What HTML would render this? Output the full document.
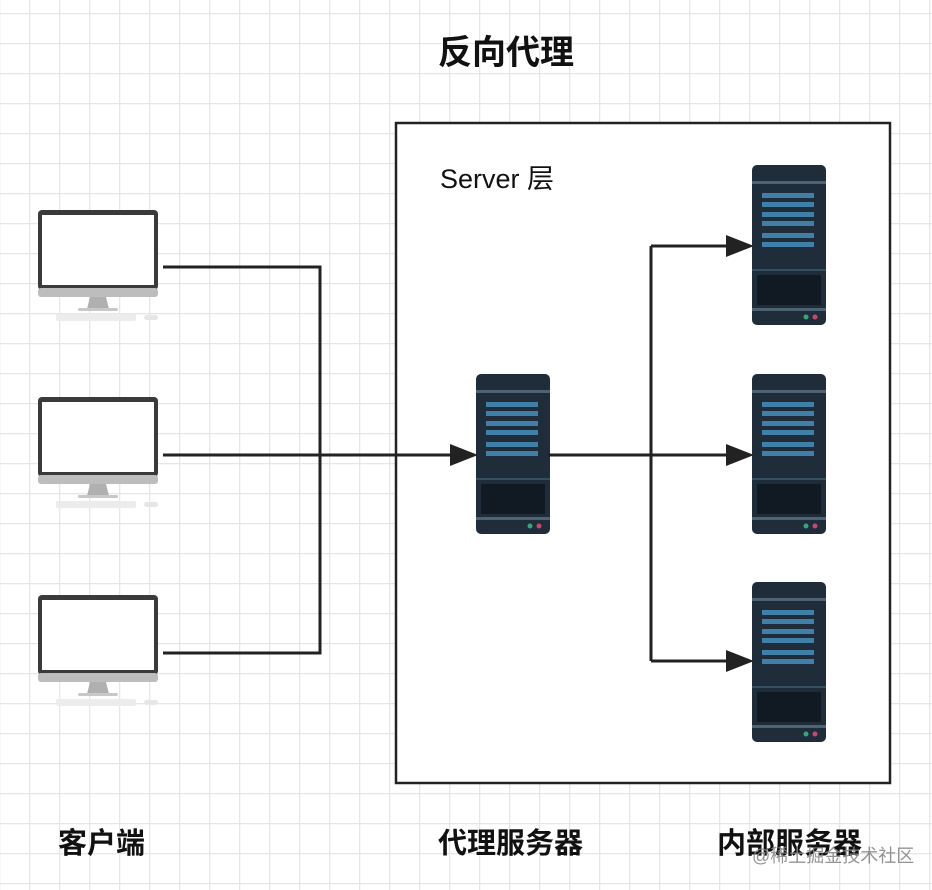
<!DOCTYPE html>
<html><head><meta charset="utf-8"><style>
html,body{margin:0;padding:0;background:#fff}
svg{display:block}
text{font-family:"Liberation Sans","Noto Sans CJK SC",sans-serif}
</style></head><body>
<svg width="932" height="890" viewBox="0 0 932 890" xmlns="http://www.w3.org/2000/svg">
<defs>
<pattern id="g" x="-1" y="13" width="30" height="30" patternUnits="userSpaceOnUse">
<path d="M0.5 0V30M0 0.5H30" stroke="#e6e6e6" stroke-width="1.5" fill="none"/>
</pattern>
<g id="mon">
<rect x="0" y="0" width="120" height="80" rx="4" fill="#3a3a3a"/>
<rect x="4" y="5" width="112" height="70" fill="#fff"/>
<rect x="0" y="78" width="120" height="9" rx="3" fill="#bdbdbd"/>
<path d="M52 87h16l3 12h-22z" fill="#b0b0b0"/>
<rect x="40" y="98" width="40" height="3" rx="1.5" fill="#c8c8c8"/>
<rect x="18" y="104" width="80" height="7" rx="2" fill="#ececec"/>
<rect x="106" y="105" width="14" height="5" rx="2.5" fill="#e6e6e6"/>
</g>
<g id="srv">
<rect x="0" y="0" width="74" height="160" rx="5" fill="#1f2d3a"/>
<rect x="0" y="16" width="74" height="3" fill="#4e6272"/>
<rect x="10" y="28" width="52" height="5" fill="#3f7fa8"/>
<rect x="10" y="37" width="52" height="5" fill="#3f7fa8"/>
<rect x="10" y="47" width="52" height="5" fill="#3f7fa8"/>
<rect x="10" y="56" width="52" height="5" fill="#3f7fa8"/>
<rect x="10" y="68" width="52" height="5" fill="#3f7fa8"/>
<rect x="10" y="77" width="52" height="5" fill="#3f7fa8"/>
<rect x="0" y="104" width="74" height="2" fill="#33505e"/>
<rect x="5" y="110" width="64" height="30" fill="#111a22"/>
<rect x="0" y="143" width="74" height="3" fill="#4e6272"/>
<circle cx="54" cy="152" r="2.5" fill="#3aa37a"/>
<circle cx="63" cy="152" r="2.5" fill="#c24a6a"/>
</g>
</defs>
<rect width="932" height="890" fill="url(#g)"/>
<text x="506" y="64" font-size="34" font-weight="bold" text-anchor="middle" fill="#111">反向代理</text>
<rect x="396" y="123" width="494" height="660" fill="#fff" stroke="#222" stroke-width="2.5"/>
<text x="440" y="188" font-size="27" fill="#111">Server 层</text>
<use href="#mon" x="38" y="210"/>
<use href="#mon" x="38" y="397"/>
<use href="#mon" x="38" y="595"/>
<use href="#srv" x="476" y="374"/>
<use href="#srv" x="752" y="165"/>
<use href="#srv" x="752" y="374"/>
<use href="#srv" x="752" y="582"/>
<g stroke="#222" stroke-width="3" fill="none">
<path d="M163 267H320V653H163"/>
<path d="M163 455H452"/>
<path d="M548 455H728"/>
<path d="M651 246V661"/>
<path d="M651 246H728"/>
<path d="M651 661H728"/>
</g>
<g fill="#222">
<path d="M450 444L478 455L450 466z"/>
<path d="M726 444L754 455L726 466z"/>
<path d="M726 235L754 246L726 257z"/>
<path d="M726 650L754 661L726 672z"/>
</g>
<text x="58" y="853" font-size="29" font-weight="bold" fill="#111">客户端</text>
<text x="438" y="853" font-size="29" font-weight="bold" fill="#111">代理服务器</text>
<text x="717" y="853" font-size="29" font-weight="bold" fill="#111">内部服务器</text>
<text x="752" y="862" font-size="18" fill="#888" opacity="0.9">@稀土掘金技术社区</text>
</svg>
</body></html>
